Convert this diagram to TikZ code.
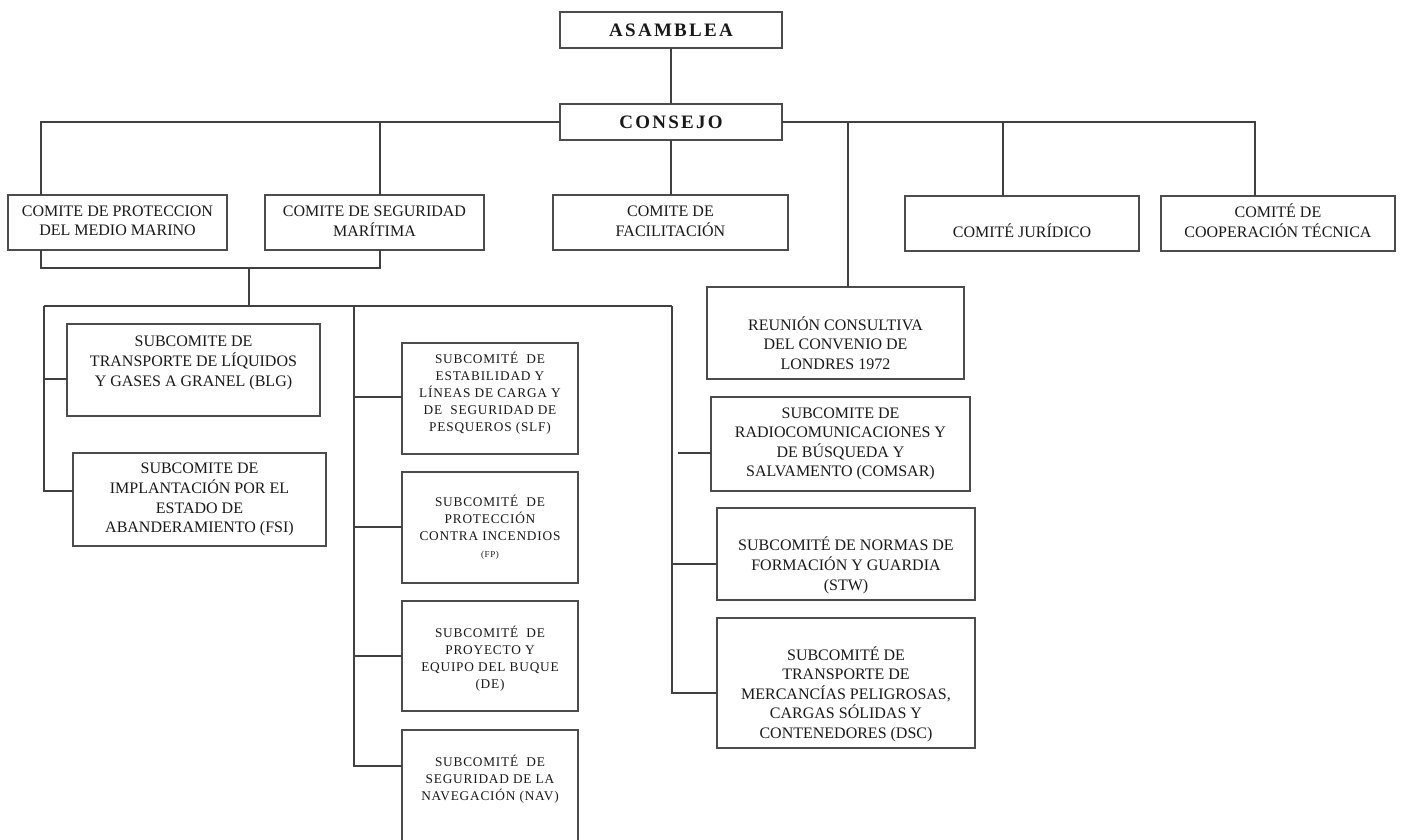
\documentclass[tikz,border=0pt]{standalone}
\usepackage{fontspec}
\setmainfont{Liberation Serif}
\newfontfamily\headfont[LetterSpace=12]{Liberation Serif}
\newfontfamily\smallfont[LetterSpace=6]{Liberation Serif}
\newcommand\bxt[4]{\parbox[c][#2pt][t]{#1pt}{\centering\vspace*{#3pt}\strut #4\par}}
\tikzset{
  box/.style={draw=black!70, line width=1.2pt, inner sep=0pt, outer sep=0pt, text=black!90},
  big/.style={box, font=\fontsize{16}{19.5}\selectfont},
  small/.style={box, font=\smallfont\fontsize{13.3}{17}\selectfont},
  head/.style={box, font=\headfont\bfseries\fontsize{19}{22}\selectfont, minimum width=222pt, minimum height=36pt},
  conn/.style={draw=black!75, line width=1.2pt}
}
\begin{document}
\begin{tikzpicture}[x=1pt,y=-1pt]
\useasboundingbox[fill=white] (0,0) rectangle (1405,839);
% top
\node[head] (asam) at (671,30) {ASAMBLEA};
\node[head] (cons) at (671,122) {CONSEJO};
% committees
\node[big] (cpmm) at (117.5,222.5) {\bxt{219}{55}{7.6}{COMITE DE PROTECCION\\DEL MEDIO MARINO}};
\node[big] (csm) at (374.5,222.5) {\bxt{219}{55}{7.6}{COMITE DE SEGURIDAD\\MARÍTIMA}};
\node[big] (fac) at (670.5,222.5) {\bxt{235}{55}{7.6}{COMITE DE\\FACILITACIÓN}};
\node[big] (jur) at (1022,223.5) {\bxt{234}{55}{27.6}{COMITÉ JURÍDICO}};
\node[big] (coop) at (1278,223.5) {\bxt{234}{55}{7.6}{COMITÉ DE\\COOPERACIÓN TÉCNICA}};
\node[big] (reun) at (835.5,333) {\bxt{257}{92}{29.6}{REUNIÓN CONSULTIVA\\DEL CONVENIO DE\\LONDRES 1972}};
% left branch
\node[big] (blg) at (193.5,370) {\bxt{253}{92}{8.6}{SUBCOMITE DE\\TRANSPORTE DE LÍQUIDOS\\Y GASES A GRANEL (BLG)}};
\node[big] (fsi) at (199.5,499.5) {\bxt{253}{93}{6.6}{SUBCOMITE DE\\IMPLANTACIÓN POR EL\\ESTADO DE\\ABANDERAMIENTO (FSI)}};
% middle branch
\node[small] (slf) at (490,398.5) {\bxt{176}{111}{8.4}{SUBCOMITÉ~~DE\\ESTABILIDAD Y\\LÍNEAS DE CARGA Y\\DE~~SEGURIDAD DE\\PESQUEROS (SLF)}};
\node[small] (fp) at (490,527.5) {\bxt{176}{111}{22.4}{SUBCOMITÉ~~DE\\PROTECCIÓN\\CONTRA INCENDIOS\\{\fontsize{9}{17}\selectfont (FP)}}};
\node[small] (de) at (490,656) {\bxt{176}{110}{24.4}{SUBCOMITÉ~~DE\\PROYECTO Y\\EQUIPO DEL BUQUE\\(DE)}};
\node[small] (nav) at (490,786) {\bxt{176}{112}{24.4}{SUBCOMITÉ~~DE\\SEGURIDAD DE LA\\NAVEGACIÓN (NAV)}};
% right branch
\node[big] (comsar) at (840.5,444) {\bxt{259}{94}{7.6}{SUBCOMITE DE\\RADIOCOMUNICACIONES Y\\DE BÚSQUEDA Y\\SALVAMENTO (COMSAR)}};
\node[big] (stw) at (846,554) {\bxt{258}{92}{28.6}{SUBCOMITÉ DE NORMAS DE\\FORMACIÓN Y GUARDIA\\(STW)}};
\node[big] (dsc) at (846,683) {\bxt{258}{130}{28.6}{SUBCOMITÉ DE\\TRANSPORTE DE\\MERCANCÍAS PELIGROSAS,\\CARGAS SÓLIDAS Y\\CONTENEDORES (DSC)}};
% connectors top level
\draw[conn] (asam.south) -- (cons.north);
\draw[conn] (cons.west) -| ([xshift=33pt]cpmm.north west);
\coordinate (csmtop) at ([xshift=5.5pt]csm.north);
\draw[conn] (csmtop) -- (csmtop |- cons.west);
\draw[conn] (cons.south) -- (cons.south |- fac.north);
\draw[conn] (cons.east) -| ([xshift=94pt]coop.north west);
\coordinate (jtop) at ([xshift=98pt]jur.north west);
\draw[conn] (jtop) -- (jtop |- cons.east);
\coordinate (rtop) at ([xshift=12.5pt]reun.north);
\draw[conn] (rtop) -- (rtop |- cons.east);
% bracket under the two committees
\coordinate (cpb) at ([xshift=33pt]cpmm.south west);
\coordinate (csb) at ([xshift=5.5pt]csm.south);
\coordinate (j1) at (249,268);
\draw[conn] (cpb) |- (j1) -| (csb);
\coordinate (bl) at (44,306);
\coordinate (bm) at (354,306);
\coordinate (br) at (672,306);
\draw[conn] (j1) -- (j1 |- bl);
\draw[conn] (bl) -- (br);
% left
\draw[conn] (bl) |- ([yshift=-9pt]blg.west);
\draw[conn] (bl) |- ([yshift=8.5pt]fsi.west);
% middle
\draw[conn] (bm) |- ([yshift=20pt]nav.west);
\coordinate (slfc) at ([yshift=1.5pt]slf.west);
\coordinate (fpc) at ([yshift=0.5pt]fp.west);
\draw[conn] (bm |- slfc) -- (slfc);
\draw[conn] (bm |- fpc) -- (fpc);
\draw[conn] (bm |- de.west) -- (de.west);
% right
\draw[conn] (br) |- ([yshift=-10pt]dsc.west);
\coordinate (stwc) at ([yshift=-10pt]stw.west);
\draw[conn] (stwc) -- (br |- stwc);
\coordinate (cmc) at ([yshift=-9pt]comsar.west);
\draw[conn] (cmc) -- ++(-33,0);
\end{tikzpicture}
\end{document}
